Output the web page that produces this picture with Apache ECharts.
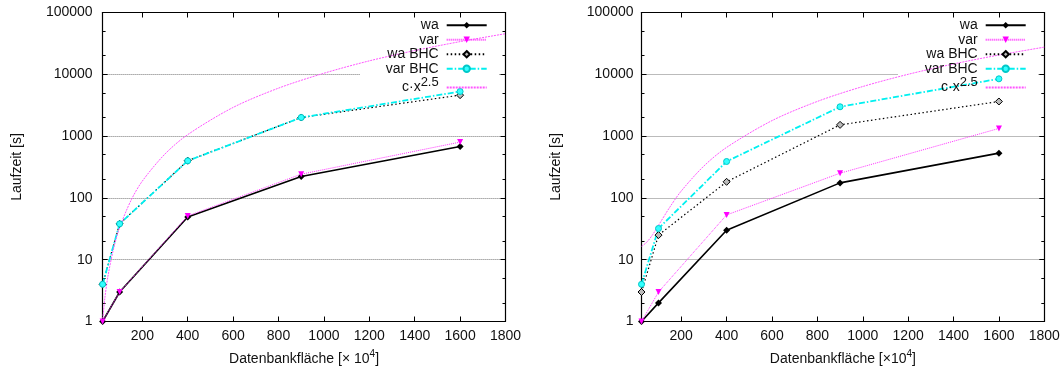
<!DOCTYPE html>
<html><head><meta charset="utf-8">
<script src="https://cdn.jsdelivr.net/npm/echarts@6/dist/echarts.min.js"></script>
<style>html,body{margin:0;padding:0;background:#fff}#c{width:1064px;height:372px}</style>
</head><body><div id="c"></div>
<script>
// ---- data ----
const seriesNames = ['wa', 'var', 'wa BHC', 'var BHC', 'c·x^2.5'];
const xValues = [25, 100, 400, 900, 1600];
const xTicks = [200, 400, 600, 800, 1000, 1200, 1400, 1600, 1800];
const yMinorTicks = [2, 5, 20, 50, 200, 500, 2000, 5000, 20000, 50000];

// left chart
const leftWa = [1, 3, 49, 222, 680];
const leftVar = [1, 3, 51, 242, 800];
const leftWaBHC = [4, 38, 400, 2000, 4600];
const leftVarBHC = [4, 38, 398, 2000, 5270];
const leftFitX = [25, 35, 50, 75, 100, 150, 200, 300, 400, 600, 800, 1000, 1200, 1400, 1600, 1800];
const leftFitY = [1, 2.4, 5.8, 16, 33, 91, 187, 514, 1056, 2910, 5970, 10400, 16500, 24200, 33800, 45400];

// right chart
const rightWa = [1, 2, 30, 175, 530];
const rightVar = [1, 3, 53, 251, 1330];
const rightWaBHC = [3, 25, 182, 1520, 3630];
const rightVarBHC = [4, 32, 388, 2980, 8450];
const rightFitX = [25, 35, 50, 75, 100, 150, 200, 300, 400, 600, 800, 1000, 1200, 1400, 1600, 1800];
const rightFitY = [16.5, 17.5, 19.5, 25.7, 36, 71, 129, 328, 656, 1780, 3640, 6340, 10000, 14700, 20500, 27500];

// ---- chart ----
const FONT = 'Liberation Sans, Arial, Helvetica, sans-serif';
const pairs = (xs, ys) => xs.map((x, i) => [x, ys[i]]);

const grids = [
  { left: 102.6, right: 1064 - 505.5, top: 12.5, bottom: 372 - 321.5 },
  { left: 641.5, right: 1064 - 1044.3, top: 12.5, bottom: 372 - 321.5 }
];

function xAxes(gi, nameText) {
  return [
    {
      type: 'value', gridIndex: gi, position: 'bottom', min: 25, max: 1800,
      axisLine: { show: true, onZero: false, lineStyle: { color: '#000', width: 1.2 } },
      axisTick: { show: true, inside: true, length: 5, customValues: xTicks, lineStyle: { color: '#000' } },
      axisLabel: { show: true, customValues: xTicks, margin: 8, color: '#111', fontSize: 14, fontFamily: FONT,
        formatter: v => String(Math.round(v)) },
      splitLine: { show: false },
      name: nameText, nameLocation: 'middle', nameGap: 28,
      nameTextStyle: {
        color: '#111', fontSize: 14, fontFamily: FONT,
        rich: { sup: { fontSize: 10, fontFamily: FONT, color: '#111', padding: [0, 0, 9, 0] } }
      }
    },
    {
      type: 'value', gridIndex: gi, position: 'top', min: 25, max: 1800,
      axisLine: { show: true, onZero: false, lineStyle: { color: '#000', width: 1.2 } },
      axisTick: { show: true, inside: true, length: 5, customValues: xTicks, lineStyle: { color: '#000' } },
      axisLabel: { show: false },
      splitLine: { show: false }
    }
  ];
}

function yAxes(gi, margin, nameGap) {
  const base = { type: 'log', logBase: 10, min: 1, max: 100000, splitNumber: 5, gridIndex: gi };
  return [
    Object.assign({}, base, {
      position: 'left',
      axisLine: { show: true, onZero: false, lineStyle: { color: '#000', width: 1.2 } },
      axisTick: { show: true, inside: true, length: 5, lineStyle: { color: '#000' } },
      axisLabel: { show: true, margin: margin, color: '#111', fontSize: 14, fontFamily: FONT,
        formatter: v => String(Math.round(v)) },
      splitLine: { show: true, lineStyle: { color: '#777', type: [1, 1], width: 1 } },
      name: 'Laufzeit [s]', nameLocation: 'middle', nameGap: nameGap,
      nameTextStyle: { color: '#111', fontSize: 14, fontFamily: FONT }
    }),
    Object.assign({}, base, {
      position: 'right',
      axisLine: { show: true, onZero: false, lineStyle: { color: '#000', width: 1.2 } },
      axisTick: { show: true, inside: true, length: 5, lineStyle: { color: '#000' } },
      axisLabel: { show: false },
      splitLine: { show: false }
    }),
    Object.assign({}, base, {
      position: 'left',
      axisLine: { show: false },
      axisTick: { show: true, inside: true, length: 3, customValues: yMinorTicks, lineStyle: { color: '#000' } },
      axisLabel: { show: false },
      splitLine: { show: false }
    }),
    Object.assign({}, base, {
      position: 'right',
      axisLine: { show: false },
      axisTick: { show: true, inside: true, length: 3, customValues: yMinorTicks, lineStyle: { color: '#000' } },
      axisLabel: { show: false },
      splitLine: { show: false }
    })
  ];
}

function seriesFor(gi, wa, vr, waB, varB, fitX, fitY) {
  const xi = gi * 2, yi = gi * 4;
  return [
    { name: seriesNames[0], type: 'line', xAxisIndex: xi, yAxisIndex: yi, data: pairs(xValues, wa),
      symbol: 'diamond', symbolSize: 7, showAllSymbol: true,
      lineStyle: { color: '#000', width: 1.6 }, itemStyle: { color: '#000' } },
    { name: seriesNames[1], type: 'line', xAxisIndex: xi, yAxisIndex: yi, data: pairs(xValues, vr),
      symbol: 'triangle', symbolRotate: 180, symbolSize: 6,
      lineStyle: { color: '#ff33ff', width: 1, type: [1, 1] }, itemStyle: { color: '#ff00ff' } },
    { name: seriesNames[2], type: 'line', xAxisIndex: xi, yAxisIndex: yi, data: pairs(xValues, waB),
      symbol: 'diamond', symbolSize: 7,
      lineStyle: { color: '#000', width: 1.2, type: [1.5, 2.5] },
      itemStyle: { color: '#bbb', borderColor: '#000', borderWidth: 1 } },
    { name: seriesNames[3], type: 'line', xAxisIndex: xi, yAxisIndex: yi, data: pairs(xValues, varB),
      symbol: 'circle', symbolSize: 6,
      lineStyle: { color: '#00f0f0', width: 1.8, type: [6, 2, 1.5, 2] },
      itemStyle: { color: '#33ffff', borderColor: '#00c8c8', borderWidth: 1 } },
    { name: seriesNames[4], type: 'line', xAxisIndex: xi, yAxisIndex: yi, data: pairs(fitX, fitY),
      symbol: 'none', smooth: 0.3,
      lineStyle: { color: '#ff55ff', width: 1, type: [2, 1] }, itemStyle: { color: '#ff55ff' } }
  ];
}

function legendFor(rightPx) {
  return {
    data: seriesNames.map(n => n === 'c·x^2.5'
      ? { name: n, itemStyle: { opacity: 0 } }
      : { name: n }),
    orient: 'vertical', right: rightPx, top: 18, padding: 0,
    itemWidth: 40, itemHeight: 8, itemGap: 0, align: 'right', selectedMode: false,
    formatter: n => n === 'c·x^2.5' ? 'c·x{sup|2.5}' : n,
    textStyle: {
      color: '#111', fontSize: 14, fontFamily: FONT, width: 80, align: 'right', lineHeight: 14.5,
      padding: [0, 3, 0, 0],
      rich: { sup: { fontSize: 13, fontFamily: FONT, color: '#111', padding: [0, 0, 10, 0] } }
    }
  };
}

const chart = echarts.init(document.getElementById('c'), null, { renderer: 'canvas' });
chart.setOption({
  animation: false,
  backgroundColor: '#fff',
  textStyle: { fontFamily: FONT },
  grid: grids,
  xAxis: [].concat(xAxes(0, 'Datenbankfläche [× 10{sup|4}]'), xAxes(1, 'Datenbankfläche [×10{sup|4}]')),
  yAxis: [].concat(yAxes(0, 10, 78), yAxes(1, 8, 78)),
  legend: [legendFor(1064 - 487.7), legendFor(1064 - 1026.7)],
  graphic: [
    { type: 'rect', z: 1, shape: { x: 360, y: 19, width: 139, height: 72 }, style: { fill: '#fff' } },
    { type: 'rect', z: 1, shape: { x: 898, y: 19, width: 140, height: 72 }, style: { fill: '#fff' } }
  ],
  series: [].concat(
    seriesFor(0, leftWa, leftVar, leftWaBHC, leftVarBHC, leftFitX, leftFitY),
    seriesFor(1, rightWa, rightVar, rightWaBHC, rightVarBHC, rightFitX, rightFitY)
  )
});
</script>
</body></html>
